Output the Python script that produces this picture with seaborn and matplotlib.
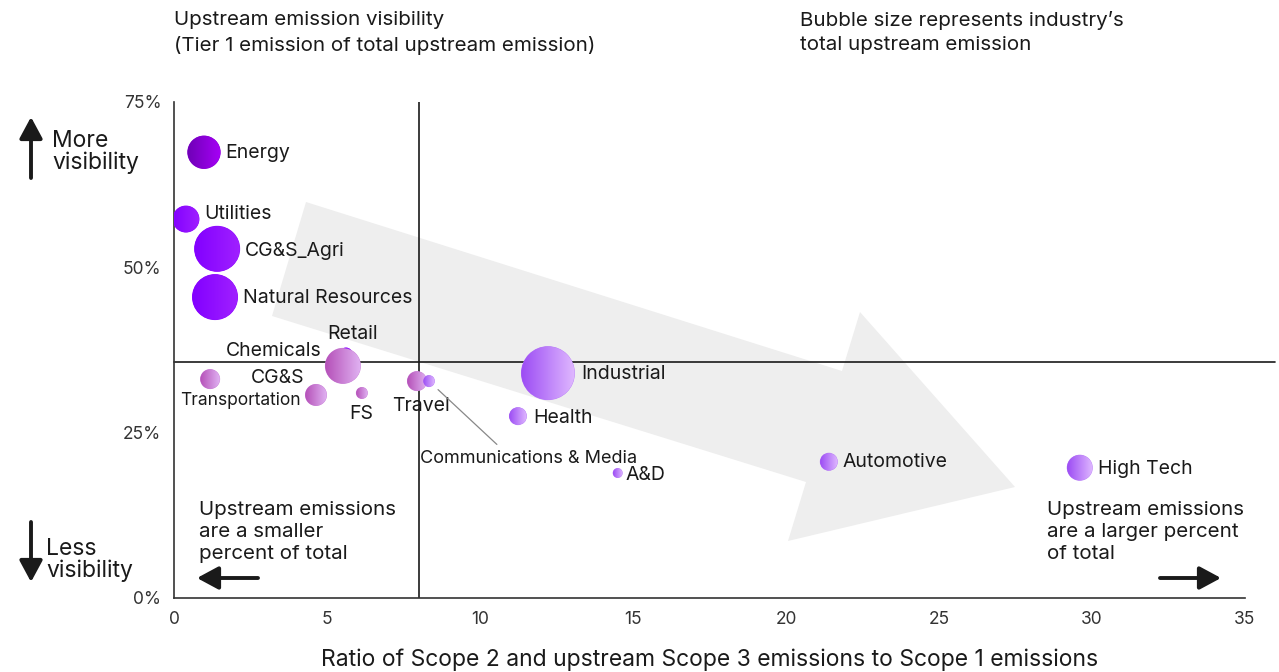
import numpy as np
import pandas as pd
import matplotlib
matplotlib.use("Agg")
import matplotlib.pyplot as plt
from matplotlib.patches import Polygon, Circle, FancyArrowPatch
from matplotlib.colors import LinearSegmentedColormap
from matplotlib.transforms import IdentityTransform
import seaborn as sns

# Data
industries = ["Energy", "Utilities", "CG&S_Agri", "Natural Resources", "Retail",
              "Chemicals", "CG&S", "Transportation", "FS", "Travel",
              "Communications & Media", "Industrial", "Health", "A&D",
              "Automotive", "High Tech"]
ratio = [0.98, 0.39, 1.41, 1.34, 5.62, 5.52, 4.64, 1.18, 6.14, 7.94,
         8.33, 12.22, 11.24, 14.5, 21.4, 29.6]
visibility = [67.4, 57.3, 52.8, 45.5, 36.9, 35.1, 30.7, 33.1, 31.0, 32.8,
              32.8, 34.0, 27.5, 18.9, 20.6, 19.7]
emission = [279, 182, 529, 529, 42, 324, 121, 100, 36, 100,
            36, 729, 81, 25, 81, 169]
group = ["energy", "violet", "violet", "violet", "violet",
         "pink", "pink", "pink", "pink", "pink",
         "lilac", "lilac", "lilac", "lilac", "lilac", "lilac"]

palette = {"energy": "#8700d4", "violet": "#8f05ff",
           "pink": "#c97ed6", "lilac": "#b67bf7"}
# left -> right shading of the bubbles
gradients = {"energy": ("#6e00b6", "#a600f6"), "violet": ("#8200ff", "#a020ff"),
             "pink": ("#b550b8", "#e0b2f2"), "lilac": ("#9c4cf4", "#dfb8ff")}

# label offsets in pixels (dx, dy) and alignment
label_pos = {
    "Energy": (21, -1, "left"),
    "Utilities": (18, 5, "left"),
    "CG&S_Agri": (28, -2, "left"),
    "Natural Resources": (28, -1, "left"),
    "Retail": (7, 20, "center"),
    "Chemicals": (-21, 15, "right"),
    "CG&S": (-11, 17, "right"),
    "Transportation": (30, -21, "center"),
    "FS": (-1, -21, "center"),
    "Travel": (4, -25, "center"),
    "Industrial": (33, -1, "left"),
    "Health": (15, -2, "left"),
    "A&D": (8, -2, "left"),
    "Automotive": (14, 0, "left"),
    "High Tech": (18, -1, "left"),
}

df = pd.DataFrame({"industry": industries, "ratio": ratio,
                   "visibility": visibility, "emission": emission,
                   "group": group})

sns.set_theme(style="white")
plt.rcParams["font.family"] = ["Inter", "DejaVu Sans"]
ink = "#1a1a1a"

W, H = 1279, 672
fig = plt.figure(figsize=(W / 100, H / 100), dpi=100)
ax = fig.add_axes([174 / W, 1 - 598 / H, (1245 - 174) / W, (598 - 102) / H])

# big grey trend arrow in the background (axes fraction)
arrow_px = [(306, 202), (842, 371), (860, 312), (1015, 487),
            (788, 541), (806, 482), (272, 316)]
arrow_ax = [((x - 174) / (1245 - 174), (598 - y) / (598 - 102)) for x, y in arrow_px]
ax.add_patch(Polygon(arrow_ax, closed=True, transform=ax.transAxes,
                     facecolor="#eeeeee", edgecolor="none", zorder=0))

# quadrant lines
ax.axhline(35.7, xmin=0, xmax=1.028, color=ink, lw=1.2, clip_on=False, zorder=1)
ax.axvline(8, color=ink, lw=1.2, zorder=1)

sizes_pt = (2.07 * min(emission), 2.07 * max(emission))
sns.scatterplot(data=df, x="ratio", y="visibility", hue="group", palette=palette,
                size="emission", sizes=sizes_pt,
                size_norm=(min(emission), max(emission)),
                linewidth=0, alpha=1, legend=False, ax=ax, zorder=3)

ax.set_xlim(0, 35)
ax.set_ylim(0, 75)

# gradient overlay on each bubble, clipped to the bubble drawn by seaborn
coll = ax.collections[-1]
pt_sizes = coll.get_sizes()
ramp = np.linspace(0, 1, 64).reshape(1, -1)
inv = ax.transData.inverted()
for i, (x, y, g) in enumerate(zip(ratio, visibility, group)):
    s = pt_sizes[i] if len(pt_sizes) > 1 else pt_sizes[0]
    r = np.sqrt(s) / 2 * fig.dpi / 72
    cx, cy = ax.transData.transform((x, y))
    (x0, y0), (x1, y1) = inv.transform([(cx - r, cy - r), (cx + r, cy + r)])
    cmap = LinearSegmentedColormap.from_list(g, gradients[g])
    im = ax.imshow(ramp, cmap=cmap, extent=(x0, x1, y0, y1), aspect="auto",
                   interpolation="bilinear", zorder=3.5)
    im.set_clip_path(Circle((cx, cy), r - 0.3, transform=IdentityTransform()))
ax.set_xlim(0, 35)
ax.set_ylim(0, 75)

for name, x, y in zip(industries, ratio, visibility):
    if name in label_pos:
        dx, dy, ha = label_pos[name]
        fs = 12.5 if name == "Transportation" else 14
        ax.annotate(name, (x, y), xytext=(dx, dy), textcoords="offset pixels",
                    ha=ha, va="center", fontsize=fs, color=ink, zorder=4)

# communications & media label with leader line
ax.annotate("Communications & Media", (8.33, 32.8), xytext=(-9, -77),
            textcoords="offset pixels", ha="left", va="center",
            fontsize=13, color=ink, zorder=4,
            arrowprops=dict(arrowstyle="-", color="#888888", lw=0.9,
                            relpos=(0.38, 1.0), shrinkA=2, shrinkB=9))

ax.set_xticks(range(0, 36, 5))
ax.set_yticks([0, 25, 50, 75])
ax.set_yticklabels(["0%", "25%", "50%", "75%"])
ax.set_xlabel("Ratio of Scope 2 and upstream Scope 3 emissions to Scope 1 emissions",
              fontsize=16.5, color=ink, labelpad=15)
ax.set_ylabel("")
sns.despine(ax=ax)
for s in ["left", "bottom"]:
    ax.spines[s].set_color("#333333")
    ax.spines[s].set_linewidth(1.2)
ax.tick_params(axis="both", direction="out", length=5, width=1.1,
               color="#333333", labelcolor="#333333", labelsize=12.5, pad=4)
ax.tick_params(axis="y", pad=4)
ax.patch.set_alpha(0)

# header texts
fig.text(174 / W, 1 - 11 / H,
         "Upstream emission visibility\n(Tier 1 emission of total upstream emission)",
         ha="left", va="top", fontsize=14.8, color=ink, linespacing=1.45)
fig.text(800 / W, 1 - 11 / H,
         "Bubble size represents industry\u2019s\ntotal upstream emission",
         ha="left", va="top", fontsize=14.8, color=ink, linespacing=1.45)

# side texts
fig.text(52 / W, 1 - 152 / H, "More\nvisibility", ha="left", va="center",
         fontsize=16.5, color=ink, linespacing=1.0)
fig.text(46 / W, 1 - 560 / H, "Less\nvisibility", ha="left", va="center",
         fontsize=16.5, color=ink, linespacing=1.0)
fig.text(199 / W, 1 - 501 / H, "Upstream emissions\nare a smaller\npercent of total",
         ha="left", va="top", fontsize=14.8, color=ink, linespacing=1.3)
fig.text(1047 / W, 1 - 501 / H, "Upstream emissions\nare a larger percent\nof total",
         ha="left", va="top", fontsize=14.8, color=ink, linespacing=1.3)

# small direction arrows
def arrow(x0, y0, x1, y1):
    fig.add_artist(FancyArrowPatch(
        (x0 / W, 1 - y0 / H), (x1 / W, 1 - y1 / H), transform=fig.transFigure,
        arrowstyle="-|>,head_length=0.65,head_width=0.35", mutation_scale=20,
        color=ink, lw=2.8, shrinkA=0, shrinkB=0))

arrow(31, 178, 31, 117)
arrow(31, 522, 31, 582)
arrow(258, 578, 197, 578)
arrow(1160, 578, 1221, 578)

fig.savefig("out.png", dpi=100)
